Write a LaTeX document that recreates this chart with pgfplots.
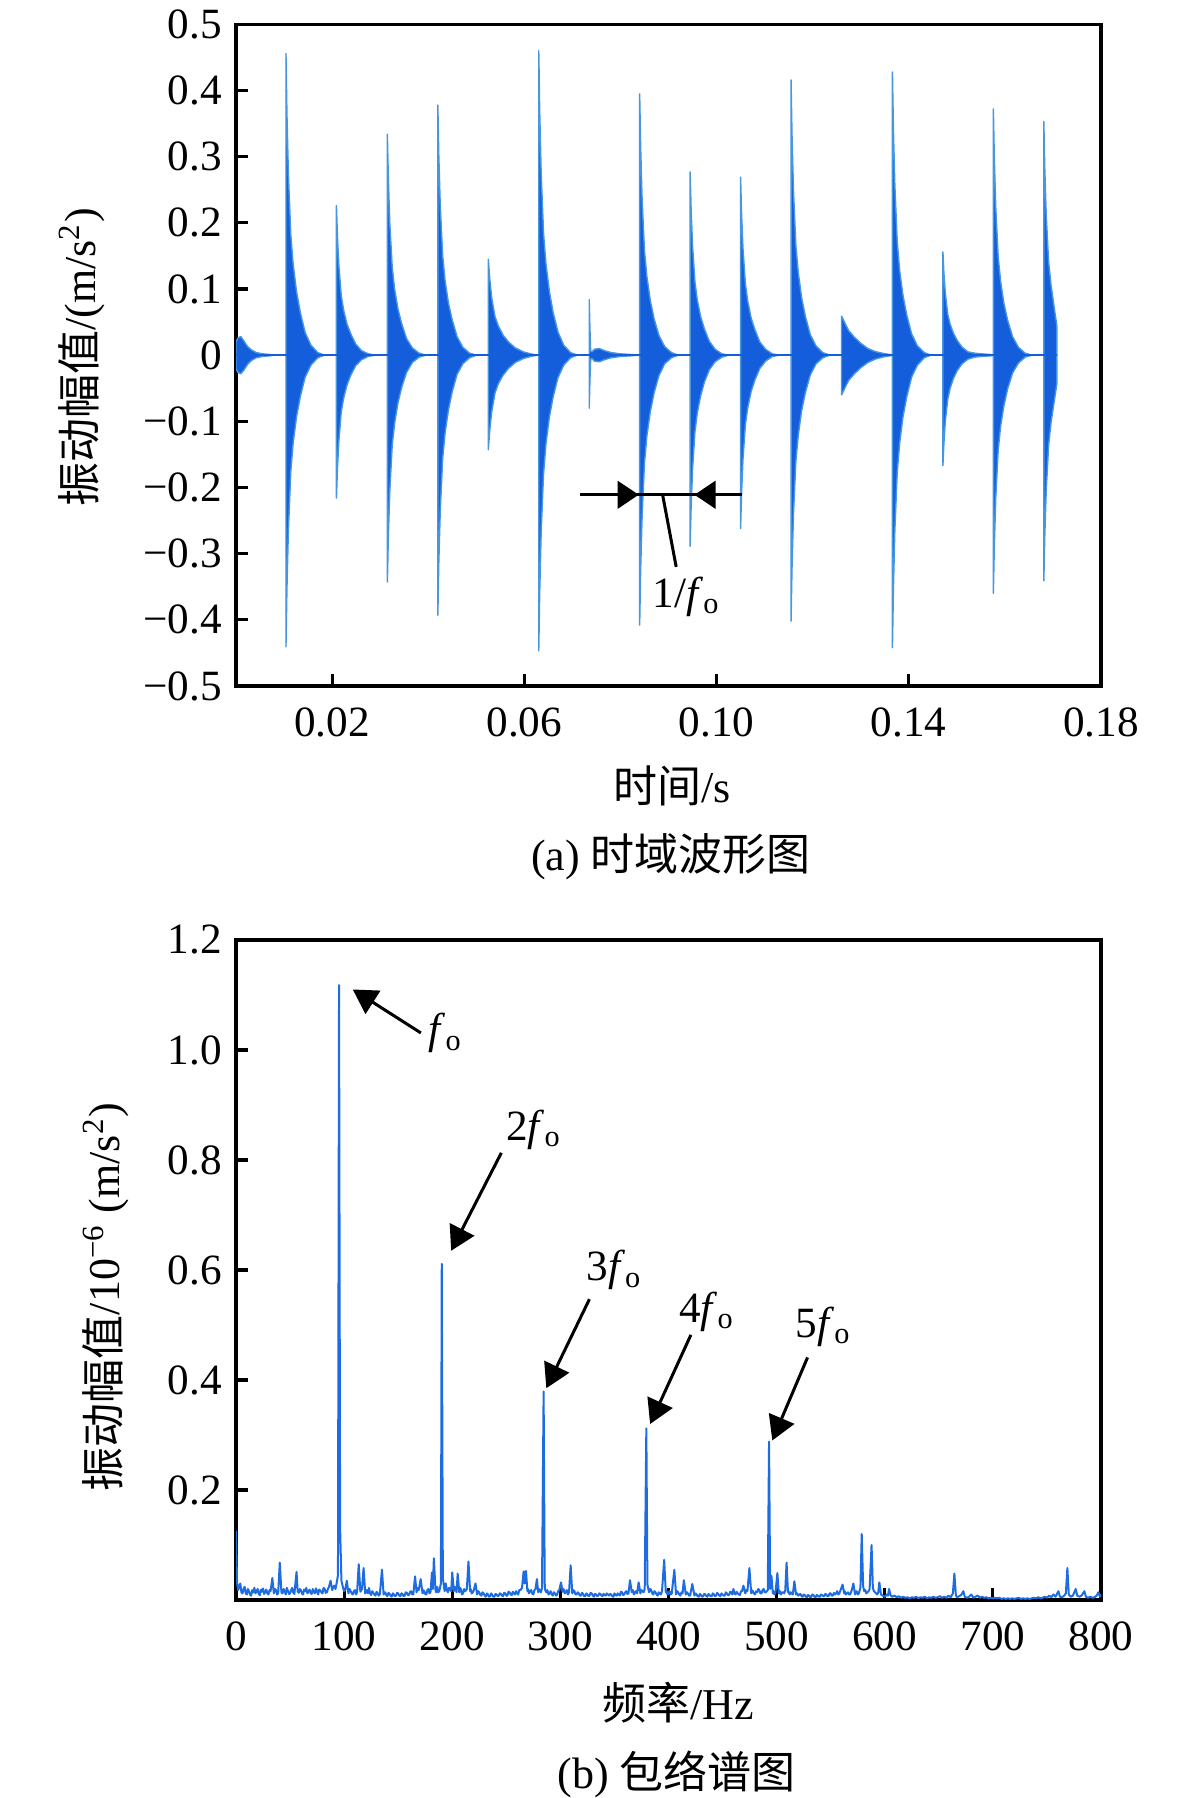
\documentclass[border=0pt]{standalone}
\usepackage{fontspec}
\setmainfont{Liberation Serif}
\newfontfamily\cjk{Noto Sans CJK SC}
\usepackage{pgfplots}
\usepackage{pgfplotstable}
\pgfplotsset{compat=1.18}
\usetikzlibrary{arrows.meta}
\definecolor{sigblue}{RGB}{20,94,220}
\definecolor{tipblue}{RGB}{70,150,225}
\definecolor{specblue}{RGB}{30,108,225}

\pgfplotstableread{
t up lo
0 0.020 -0.020
0.0004 0.026 -0.026
0.0010 0.028 -0.028
0.0016 0.022 -0.023
0.0024 0.013 -0.014
0.0032 0.008 -0.008
0.0042 0.004 -0.004
0.0055 0.002 -0.002
0.0070 0.001 -0.001
0.0080 0 0
0.0104 0 0
0.0104 0.456 -0.441
0.0106 0.365 -0.353
0.0109 0.274 -0.265
0.0114 0.182 -0.176
0.0119 0.137 -0.132
0.0126 0.096 -0.093
0.0134 0.064 -0.062
0.0144 0.034 -0.033
0.0156 0.015 -0.015
0.0170 0.004 -0.004
0.0184 0 0
0.0209 0 0
0.0209 0.226 -0.216
0.0211 0.181 -0.173
0.0214 0.136 -0.130
0.0219 0.090 -0.086
0.0224 0.068 -0.065
0.0231 0.047 -0.045
0.0239 0.032 -0.030
0.0249 0.017 -0.016
0.0261 0.007 -0.007
0.0275 0.002 -0.002
0.0289 0 0
0.0315 0 0
0.0315 0.334 -0.343
0.0317 0.267 -0.274
0.0320 0.200 -0.206
0.0325 0.134 -0.137
0.0330 0.100 -0.103
0.0337 0.070 -0.072
0.0345 0.047 -0.048
0.0355 0.025 -0.026
0.0367 0.011 -0.011
0.0381 0.003 -0.003
0.0395 0 0
0.0420 0 0
0.0420 0.378 -0.393
0.0422 0.302 -0.314
0.0425 0.227 -0.236
0.0430 0.151 -0.157
0.0435 0.113 -0.118
0.0442 0.079 -0.083
0.0450 0.053 -0.055
0.0460 0.028 -0.029
0.0472 0.012 -0.013
0.0486 0.003 -0.004
0.0500 0 0
0.0525 0 0
0.0525 0.145 -0.143
0.0528 0.116 -0.114
0.0532 0.087 -0.086
0.0539 0.058 -0.057
0.0546 0.044 -0.043
0.0556 0.030 -0.030
0.0567 0.020 -0.020
0.0581 0.011 -0.011
0.0598 0.005 -0.005
0.0617 0.0013 -0.0013
0.0629 0 0
0.0630 0 0
0.0630 0.460 -0.447
0.0632 0.368 -0.358
0.0635 0.276 -0.268
0.0640 0.184 -0.179
0.0645 0.138 -0.134
0.0652 0.097 -0.094
0.0660 0.064 -0.063
0.0670 0.035 -0.034
0.0682 0.015 -0.015
0.0696 0.004 -0.004
0.0710 0 0
0.0735 0 0
0.0735 0.084 -0.080
0.07365 0.040 -0.038
0.0738 0.006 -0.006
0.0741 0.005 -0.005
0.0746 0.009 -0.009
0.0756 0.010 -0.010
0.0766 0.007 -0.007
0.0780 0.004 -0.004
0.0800 0.002 -0.002
0.0825 0.0008 -0.0008
0.0835 0 0
0.0840 0 0
0.0840 0.395 -0.408
0.0842 0.316 -0.326
0.0845 0.237 -0.245
0.0850 0.158 -0.163
0.0855 0.119 -0.122
0.0862 0.083 -0.086
0.0870 0.055 -0.057
0.0880 0.030 -0.031
0.0892 0.013 -0.013
0.0906 0.004 -0.004
0.0920 0 0
0.0945 0 0
0.0945 0.277 -0.289
0.0947 0.222 -0.231
0.0950 0.166 -0.173
0.0955 0.111 -0.116
0.0960 0.083 -0.087
0.0967 0.058 -0.061
0.0975 0.039 -0.040
0.0985 0.021 -0.022
0.0997 0.009 -0.010
0.1011 0.002 -0.003
0.1025 0 0
0.1050 0 0
0.1050 0.269 -0.262
0.1052 0.215 -0.210
0.1055 0.161 -0.157
0.1060 0.108 -0.105
0.1065 0.081 -0.079
0.1072 0.056 -0.055
0.1080 0.038 -0.037
0.1090 0.020 -0.020
0.1102 0.009 -0.009
0.1116 0.002 -0.002
0.1130 0 0
0.1155 0 0
0.1155 0.416 -0.402
0.1157 0.333 -0.322
0.1160 0.250 -0.241
0.1165 0.166 -0.161
0.1170 0.125 -0.121
0.1177 0.087 -0.084
0.1185 0.058 -0.056
0.1195 0.031 -0.030
0.1207 0.014 -0.013
0.1221 0.004 -0.004
0.1235 0 0
0.1260 0 0
0.1260 0.059 -0.060
0.1263 0.055 -0.056
0.1268 0.047 -0.048
0.1275 0.037 -0.038
0.1287 0.027 -0.028
0.1300 0.018 -0.019
0.1315 0.010 -0.011
0.1330 0.0055 -0.006
0.1345 0.003 -0.003
0.1360 0.001 -0.001
0.1366 0 0
0.1366 0.428 -0.442
0.1368 0.342 -0.354
0.1371 0.257 -0.265
0.1376 0.171 -0.177
0.1381 0.128 -0.133
0.1388 0.090 -0.093
0.1396 0.060 -0.062
0.1406 0.032 -0.033
0.1418 0.014 -0.015
0.1432 0.004 -0.004
0.1446 0 0
0.1471 0 0
0.1471 0.156 -0.167
0.1473 0.125 -0.134
0.1476 0.094 -0.100
0.1481 0.062 -0.067
0.1486 0.047 -0.050
0.1493 0.033 -0.035
0.1501 0.022 -0.023
0.1511 0.012 -0.013
0.1523 0.005 -0.006
0.1537 0.003 -0.003
0.1551 0.002 -0.002
0.1570 0.001 -0.001
0.1576 0 0
0.1576 0.372 -0.360
0.1578 0.298 -0.288
0.1581 0.223 -0.216
0.1586 0.149 -0.144
0.1591 0.112 -0.108
0.1598 0.078 -0.076
0.1606 0.052 -0.050
0.1616 0.028 -0.027
0.1628 0.012 -0.012
0.1642 0.003 -0.003
0.1656 0 0
0.1681 0 0
0.1681 0.353 -0.341
0.1683 0.282 -0.273
0.1686 0.212 -0.205
0.1691 0.141 -0.136
0.1696 0.106 -0.102
0.1703 0.070 -0.068
0.1708 0.045 -0.044
0.1708 0 0
}\timedata

\pgfplotstableread{
f a
0 0.126
1 0.03
2 0.018
3 0.026
4 0.03
5 0.014
6 0.012
7 0.020
8 0.024
9 0.012
10 0.010
11 0.020
12 0.016
13 0.010
14 0.008
15 0.018
16 0.014
17 0.022
18 0.012
19 0.016
20 0.020
21 0.011
22 0.009
23 0.019
24 0.015
25 0.021
26 0.011
27 0.014
28 0.019
29 0.012
30 0.010
31 0.018
32 0.016
33.6 0.040
35 0.012
36 0.020
37 0.018
38 0.010
39 0.012
40.5 0.068
42 0.014
43 0.012
44 0.020
45 0.016
46 0.010
47 0.022
48 0.017
49 0.011
50 0.012
51 0.018
52 0.022
53 0.013
54 0.011
56 0.051
57 0.016
58 0.013
59 0.020
60 0.018
61 0.012
62 0.010
63 0.019
64 0.016
65 0.022
66 0.012
67 0.015
68 0.019
69 0.013
70 0.011
71 0.020
72 0.015
73 0.012
74 0.021
75 0.016
76 0.010
77 0.019
78 0.017
79 0.014
80 0.012
81 0.022
82 0.020
83 0.013
84 0.014
85 0.020
86 0.024
87.5 0.035
89 0.018
90 0.024
91 0.026
92 0.020
93 0.030
94.3 0.045
95.3 1.118
96.3 0.130
97.5 0.035
99 0.022
100 0.016
101 0.018
102.5 0.035
104 0.012
105 0.020
106 0.016
107 0.012
108 0.010
109 0.016
110 0.018
111 0.010
112 0.014
113.5 0.065
115 0.015
116.5 0.020
118 0.058
119.5 0.012
121 0.018
122 0.012
123 0.022
124 0.012
125 0.009
126 0.016
127 0.013
128 0.010
129 0.008
130 0.015
131 0.012
132 0.008
133 0.010
135 0.055
136.5 0.010
138 0.014
139 0.009
140 0.007
141 0.013
142 0.011
143 0.008
144 0.006
145 0.012
146 0.010
147 0.007
148 0.008
149 0.013
150 0.012
151 0.008
152 0.007
153 0.012
154 0.011
155 0.007
156 0.008
157 0.014
158 0.013
159 0.009
160 0.009
161 0.015
162 0.016
163 0.010
164 0.010
165.6 0.043
167 0.014
168 0.022
169 0.018
170.8 0.038
172.5 0.012
173 0.018
174 0.016
175 0.011
176 0.010
177 0.018
178 0.020
179 0.012
180 0.015
181.2 0.050
182 0.020
183 0.076
184.5 0.018
185 0.014
186 0.024
187 0.014
188 0.016
189.5 0.030
190.3 0.611
191.3 0.040
192.5 0.022
193 0.016
194 0.030
195 0.018
196 0.014
197 0.022
198 0.020
199 0.016
200 0.050
201.5 0.016
202 0.024
203 0.022
204 0.014
205 0.048
206.5 0.014
207 0.022
208 0.020
209 0.010
210 0.012
211 0.020
212 0.016
213.5 0.020
215 0.070
216.5 0.016
217 0.020
218 0.012
219 0.014
220 0.018
221.5 0.030
223 0.010
224 0.016
225 0.014
226 0.009
227 0.008
228 0.014
229 0.012
230 0.008
231 0.006
232 0.012
233 0.010
234 0.006
235 0.007
236 0.012
237 0.009
238 0.006
239 0.006
240 0.011
241 0.010
242 0.007
243 0.008
244 0.012
245 0.011
246 0.008
247 0.007
248 0.013
249 0.012
250 0.008
251 0.008
252 0.015
253 0.014
254 0.010
255 0.009
256 0.015
257 0.012
258 0.010
259 0.016
260 0.012
261 0.010
262 0.018
263 0.018
264.5 0.022
266 0.052
267 0.030
268.2 0.053
269.5 0.016
270 0.020
271 0.012
272 0.016
273 0.018
274 0.012
275 0.010
276 0.018
277 0.020
278.3 0.038
279.5 0.014
280 0.020
281 0.018
282 0.014
283 0.022
284.5 0.379
285.5 0.030
286 0.018
287 0.014
288 0.018
289 0.010
290 0.012
291 0.016
292 0.010
293 0.008
294 0.014
295 0.012
296 0.008
297 0.010
298 0.016
299 0.018
300.6 0.032
302 0.015
303 0.020
304 0.012
305 0.014
306 0.018
307 0.010
308 0.014
309.5 0.063
311 0.012
312 0.018
313 0.016
314 0.010
315 0.010
316 0.014
317 0.012
318 0.008
319 0.008
320 0.013
321 0.011
322 0.007
323 0.007
324 0.012
325 0.010
326 0.007
327 0.008
328 0.013
329 0.012
330 0.008
331 0.006
332 0.011
333 0.010
334 0.007
335 0.008
336 0.012
337 0.011
338 0.008
339 0.007
340 0.011
341 0.009
342 0.008
343 0.012
344 0.010
345 0.008
346 0.011
347 0.010
348 0.007
349 0.006
350 0.012
351 0.009
352 0.008
353 0.012
354 0.010
355 0.008
356 0.015
357 0.014
358 0.009
359 0.010
360 0.014
361 0.016
362 0.011
363 0.012
364.4 0.036
366 0.014
367 0.018
368 0.010
369 0.014
370 0.016
371 0.012
372.4 0.032
374 0.012
375 0.018
376 0.016
377 0.014
378 0.020
379.5 0.312
380.5 0.028
382 0.014
383 0.020
384 0.018
385 0.012
386 0.010
387 0.016
388 0.014
389 0.010
390 0.008
391 0.014
392 0.012
393 0.010
394 0.016
396 0.073
397.5 0.014
398 0.018
399 0.010
400 0.012
401 0.016
402 0.010
403 0.012
405.4 0.055
407 0.010
408 0.016
409 0.014
410 0.010
411 0.008
412 0.014
413 0.012
414.2 0.036
416 0.010
417 0.014
418 0.012
419 0.008
420 0.008
422 0.029
424 0.008
425 0.012
426 0.010
427 0.007
428 0.006
429 0.011
430 0.009
431 0.006
432 0.007
433 0.011
434 0.010
435 0.007
436 0.006
437 0.011
438 0.009
439 0.007
440 0.007
441 0.012
442 0.010
443 0.007
444 0.008
445 0.013
446 0.011
447 0.008
448 0.007
449 0.012
450 0.010
451 0.008
452 0.008
453 0.014
454 0.012
455 0.009
456 0.009
457 0.015
458 0.014
459 0.010
460 0.020
461 0.012
462 0.010
463 0.015
464 0.012
465 0.010
466 0.009
467 0.016
468 0.016
469.3 0.026
471 0.012
472 0.018
473 0.016
474.8 0.058
476.5 0.012
477 0.018
478 0.016
479 0.012
480 0.010
481 0.016
482 0.014
483 0.020
484 0.018
485 0.012
486 0.012
487 0.018
488 0.020
489 0.014
490 0.014
491.8 0.018
493 0.288
494 0.020
495.2 0.044
496.5 0.012
497 0.016
498 0.010
499 0.014
500.7 0.049
502 0.012
503 0.016
504 0.010
505 0.014
506 0.014
507 0.012
508 0.018
509.2 0.068
510.5 0.014
511 0.016
512 0.010
513 0.014
514 0.012
515 0.010
516.4 0.034
518 0.010
519 0.012
520 0.008
521 0.010
522 0.011
523 0.007
524 0.006
525 0.010
526 0.009
527 0.006
528 0.005
529 0.009
530 0.008
531 0.005
532 0.006
533 0.010
534 0.009
535 0.006
536 0.005
537 0.009
538 0.008
539 0.006
540 0.006
541 0.010
542 0.009
543 0.007
544 0.007
545 0.011
546 0.010
547 0.007
548 0.007
549 0.012
550 0.012
551 0.008
552 0.008
553 0.013
554 0.010
555 0.012
556 0.016
557 0.010
558 0.012
559.5 0.020
561 0.028
562.5 0.012
563 0.016
564 0.010
565 0.012
566 0.014
567 0.010
568 0.010
569.5 0.018
571 0.030
572.5 0.010
573 0.014
574 0.016
575 0.010
576 0.012
577.5 0.022
578.7 0.120
580 0.025
581 0.016
582 0.018
583 0.012
584 0.014
585 0.016
586 0.020
587.8 0.100
589 0.022
590 0.016
591 0.014
592 0.012
593 0.010
594 0.014
595 0.032
596.5 0.010
598 0.008
600 0.006
601 0.008
602 0.010
603 0.008
604 0.020
605.5 0.008
607 0.006
609 0.008
611 0.005
613 0.007
615 0.004
617 0.006
619 0.004
621 0.005
623 0.003
625 0.005
627 0.004
629 0.006
631 0.003
633 0.005
635 0.004
637 0.006
639 0.003
641 0.005
643 0.004
645 0.006
647 0.004
649 0.005
651 0.007
653 0.004
655 0.006
657 0.004
659 0.008
661 0.005
663 0.012
664.4 0.048
665.8 0.008
667 0.005
669 0.007
671 0.010
672.7 0.016
674 0.006
676 0.004
678 0.006
680 0.010
682 0.004
684 0.006
686 0.008
688 0.004
690 0.006
692 0.004
694 0.005
696 0.003
698 0.004
700 0.003
702 0.004
704 0.003
706 0.004
708 0.002
710 0.003
712 0.002
714 0.003
716 0.002
718 0.003
720 0.002
722 0.003
724 0.004
726 0.002
728 0.003
730 0.002
732 0.003
734 0.002
736 0.003
738 0.004
740 0.003
742 0.005
744 0.003
746 0.004
748 0.006
750 0.004
752 0.008
754 0.005
756 0.010
758 0.006
760.6 0.016
762 0.006
764 0.005
766 0.008
767.5 0.012
768.9 0.058
770.2 0.010
772 0.006
774 0.008
776.6 0.020
778 0.008
780 0.006
782 0.008
784.6 0.016
786 0.006
788 0.004
790 0.006
792 0.004
794 0.005
796 0.008
797.6 0.014
799 0.006
800 0.010
}\specdata

\pgfplotsset{
  myaxis/.style={
    scale only axis,
    anchor=south west,
    width=216.25pt,
    axis line style={line width=0.8pt, black},
    tick style={line width=0.8pt, black},
    major tick length=3pt,
    tick align=inside,
    xtick pos=bottom,
    ytick pos=left,
    ticklabel style={font=\fontsize{10.8}{12}\selectfont},
    clip=true,
  },
}

\begin{document}
\begin{tikzpicture}[x=1pt,y=1pt]
\useasboundingbox (0,0) rectangle (295.25,449.5);

\begin{axis}[myaxis,
  at={(59pt,278pt)},
  height=165.4pt,
  xmin=0, xmax=0.18, ymin=-0.5, ymax=0.5,
  xtick={0.02,0.06,0.10,0.14,0.18},
  xticklabels={0.02,0.06,0.10,0.14,0.18},
  ytick={-0.5,-0.4,-0.3,-0.2,-0.1,0,0.1,0.2,0.3,0.4,0.5},
  yticklabels={−0.5,−0.4,−0.3,−0.2,−0.1,0,0.1,0.2,0.3,0.4,0.5},
  xticklabel style={yshift=-2pt},
]
\addplot[fill=sigblue, draw=tipblue, line width=0.35pt, line join=round] table[x=t,y=up] {\timedata} \closedcycle;
\addplot[fill=sigblue, draw=tipblue, line width=0.35pt, line join=round] table[x=t,y=lo] {\timedata} \closedcycle;
\addplot[sigblue, line width=0.5pt] coordinates {(0,0) (0.1708,0)};
\draw[line width=0.75pt] (0.0716,-0.211) -- (0.1053,-0.211);
\draw[line width=0.75pt, -{Triangle[length=5.3pt,width=6.9pt]}] (0.0716,-0.211) -- (0.0838,-0.211);
\draw[line width=0.75pt, -{Triangle[length=5.3pt,width=6.9pt]}] (0.1053,-0.211) -- (0.0954,-0.211);
\draw[line width=0.75pt] (0.0888,-0.212) -- (0.0916,-0.320);
\node[font=\fontsize{10.8}{12}\selectfont] at (0.0938,-0.365) {1/\textit{f}\textsubscript{o}};
\end{axis}

\begin{axis}[myaxis,
  at={(59pt,49.5pt)},
  height=165pt,
  xmin=0, xmax=800, ymin=0, ymax=1.2,
  xtick={0,100,200,300,400,500,600,700,800},
  xticklabels={0,100,200,300,400,500,600,700,800},
  ytick={0.2,0.4,0.6,0.8,1.0,1.2},
  yticklabels={0.2,0.4,0.6,0.8,1.0,1.2},
  xticklabel style={yshift=-2pt},
]
\addplot[specblue, line width=0.5pt, line join=round] table[x=f,y=a] {\specdata};
\tikzset{ann/.style={line width=0.75pt, -{Triangle[length=6pt,width=6.8pt]}}}
\draw[ann] (171,1.031) -- (108,1.11);
\draw[ann] (245.4,0.813) -- (199,0.635);
\draw[ann] (326.9,0.547) -- (287,0.385);
\draw[ann] (420.7,0.482) -- (383,0.32);
\draw[ann] (528.6,0.441) -- (496,0.29);
\node[font=\fontsize{10.8}{12}\selectfont] at (194,1.031) {\textit{f}\textsubscript{o}};
\node[font=\fontsize{10.8}{12}\selectfont] at (275.5,0.855) {2\textit{f}\textsubscript{o}};
\node[font=\fontsize{10.8}{12}\selectfont] at (350,0.600) {3\textit{f}\textsubscript{o}};
\node[font=\fontsize{10.8}{12}\selectfont] at (435.6,0.524) {4\textit{f}\textsubscript{o}};
\node[font=\fontsize{10.8}{12}\selectfont] at (543.5,0.497) {5\textit{f}\textsubscript{o}};
\end{axis}

\node[rotate=90, font=\fontsize{11}{13}\selectfont] at (20.5,360.1) {{\cjk 振动幅值}/(m/s\textsuperscript{2})};
\node[font=\fontsize{11}{13}\selectfont] at (168,253) {{\cjk 时间}/s};
\node[font=\fontsize{11}{13}\selectfont] at (167.75,235.4) {(a) {\cjk 时域波形图}};

\node[rotate=90, font=\fontsize{11}{13}\selectfont] at (26.5,125.25) {{\cjk 振动幅值}/10\textsuperscript{−6} (m/s\textsuperscript{2})};
\node[font=\fontsize{11}{13}\selectfont] at (169.5,23.8) {{\cjk 频率}/Hz};
\node[font=\fontsize{11}{13}\selectfont] at (169.2,6.0) {(b) {\cjk 包络谱图}};
\end{tikzpicture}
\end{document}
